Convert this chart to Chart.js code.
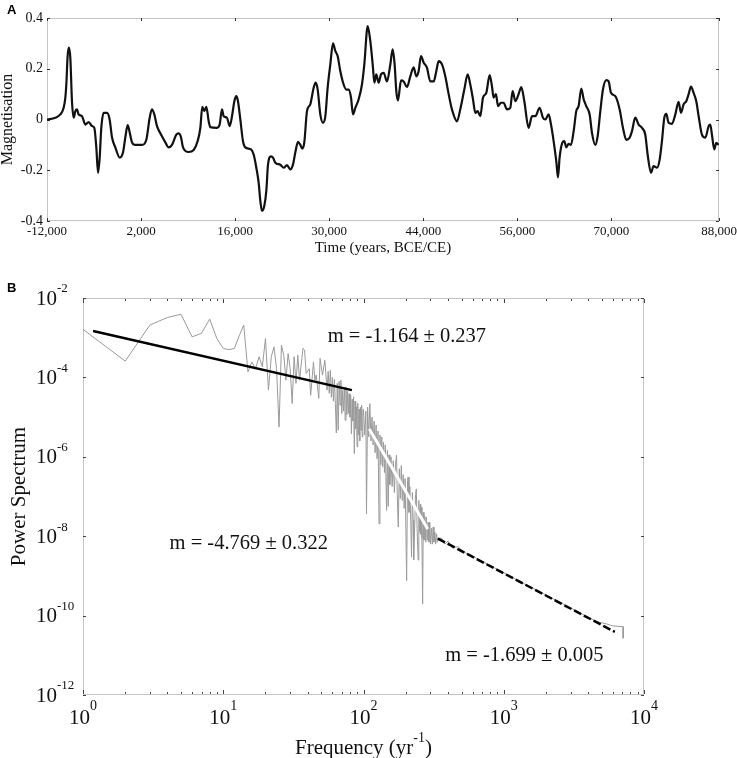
<!DOCTYPE html>
<html>
<head>
<meta charset="utf-8">
<script src="https://cdn.jsdelivr.net/npm/chart.js@4.4.1/dist/chart.umd.min.js"></script>
<style>
  html, body { margin: 0; padding: 0; background: #fff; }
  canvas { display: block; }
</style>
</head>
<body>
<canvas id="magChart" width="737" height="270"></canvas>
<canvas id="spectrumChart" width="737" height="488"></canvas>
<script>
// Panel A: magnetisation time series
const timeYears = [
  -12000, -10760, -10020, -9520, -9270, -9120, -8930, -8730, -8530, -8280, -8030, -7780, -7540, -7290,
  -6790, -6300, -5800, -5300, -4960, -4660, -4410, -4160, -3920, -3570, -3070, -2680, -2330, -1830,
  -1190, -690, -340, 0, 300, 650, 1140, 2140, 2780, 3280, 3620, 3970, 4370, 5110, 5610, 6100, 6600,
  7240, 7590, 7940, 8240, 9080, 9820, 10420, 10820, 11110, 11410, 11710, 12060, 12300, 13300, 13690,
  14040, 14290, 14780, 15180, 15530, 15880, 16170, 16420, 16770, 17160, 17510, 18360, 18750, 19150,
  19500, 19740, 19990, 20340, 20640, 20880, 21330, 21630, 21980, 22720, 23220, 23710, 24210, 24600,
  24950, 25350, 25700, 25990, 26290, 26690, 27180, 27680, 27980, 28280, 28670, 29070, 29420, 29760,
  30160, 30560, 30900, 31250, 31650, 32140, 32540, 32890, 33240, 33530, 33880, 34380, 34870, 35220,
  35720, 36110, 36510, 36710, 37000, 37350, 37700, 38100, 38590, 39090, 39440, 39730, 39980, 40230,
  40680, 41070, 41570, 42060, 42560, 42960, 43300, 43650, 44050, 44540, 45040, 45540, 45930, 46280,
  46780, 47270, 47770, 48260, 49010, 49500, 50100, 50600, 50990, 51390, 51740, 52080, 52480, 52880,
  53370, 53870, 54220, 54460, 54810, 55110, 55560, 55950, 56450, 56940, 57290, 57690, 58180, 58580,
  59030, 59670, 60170, 60660, 61310, 61800, 62150, 62650, 63000, 63390, 63790, 64040, 64280, 64680,
  64980, 65280, 65620, 65970, 66370, 66760, 67110, 67510, 67860, 68250, 68750, 69100, 69590, 69940,
  70340, 70730, 71230, 71580, 71920, 72570, 73210, 73710, 74200, 74700, 75050, 75540, 76040, 76540,
  77030, 77380, 77880, 78270, 78770, 79170, 79510, 79860, 80160, 80500, 81000, 81500, 81990, 82340,
  82740, 83130, 83480, 83830, 84220, 84620, 84970, 85460, 85960, 86460, 86700, 86950, 87300, 87600,
  87950
];
const magnetisation = [
  0, 0.007, 0.02, 0.046, 0.086, 0.14, 0.25, 0.283, 0.243, 0.07, 0.007, 0.033, 0.04, 0.02,
  0.013, -0.02, -0.01, -0.026, -0.033, -0.11, -0.21, -0.15, -0.033, 0.026, 0.026, 0, -0.07, -0.11,
  -0.15, -0.13, -0.07, -0.022, -0.05, -0.09, -0.1, -0.1, -0.08, 0.007, 0.04, 0.02, -0.026, -0.066, -0.09, -0.11, -0.1,
  -0.06, -0.055, -0.07, -0.11, -0.128, -0.12, -0.085, -0.033, 0.05, 0.033, 0.05, -0.007, -0.03, -0.033, -0.02,
  0.04, 0.013, 0.007, -0.026, 0.013, 0.072, 0.092, 0.072, 0, -0.085, -0.11, -0.118, -0.138, -0.19,
  -0.25, -0.32, -0.36, -0.34, -0.28, -0.18, -0.145, -0.15, -0.17, -0.178, -0.19, -0.18, -0.197, -0.178,
  -0.13, -0.088, -0.1, -0.115, -0.09, 0.033, 0.06, 0.125, 0.145, 0.118, 0.02, -0.013, 0.013, 0.125,
  0.217, 0.3, 0.27, 0.25, 0.19, 0.138, 0.118, 0.118, 0.086, 0.02, 0.046, 0.08, 0.138, 0.217,
  0.368, 0.31, 0.204, 0.145, 0.178, 0.145, 0.178, 0.184, 0.15, 0.217, 0.276, 0.217, 0.112, 0.075,
  0.154, 0.15, 0.128, 0.17, 0.206, 0.17, 0.19, 0.25, 0.224, 0.204, 0.15, 0.15, 0.19, 0.23,
  0.217, 0.17, 0.1, 0.04, -0.007, 0.04, 0.118, 0.178, 0.138, 0.08, 0.026, 0.033, 0.013, 0.086,
  0.105, 0.175, 0.13, 0.086, 0.1, 0.053, 0.066, 0.066, 0.04, 0.046, 0.112, 0.072, 0.1, 0.128,
  0.072, -0.033, 0.013, 0.013, 0.046, 0.007, 0, 0.02, -0.02, -0.085, -0.165, -0.228, -0.15, -0.092,
  -0.085, -0.11, -0.096, -0.1, -0.046, 0.033, 0.053, 0.122, 0.08, 0.053, 0.02, -0.053, -0.1, -0.066,
  0.033, 0.118, 0.155, 0.15, 0.105, 0.092, 0.04, -0.033, -0.08, -0.072, -0.046, 0.007, -0.02, -0.033,
  -0.06, -0.138, -0.21, -0.184, -0.19, -0.158, -0.085, 0.007, 0.022, -0.013, -0.017, 0.02, 0.07, 0.026,
  0.06, 0.072, 0.1, 0.13, 0.105, 0.072, 0.013, -0.06, -0.072, -0.026, -0.02, -0.06, -0.118, -0.092,
  -0.1
];
const timeTickPositions = [-12000, 2000, 16000, 30000, 44000, 58000, 72000, 88000];
const timeTickLabels = ["-12,000", "2,000", "16,000", "30,000", "44,000", "56,000", "70,000", "88,000"];
const magTickValues = [-0.4, -0.2, 0, 0.2, 0.4];
const magTickLabels = ["-0.4", "-0.2", "0", "0.2", "0.4"];

// Panel B: power spectrum (frequency, log10 of power)
const specFreq = [
  1, 2, 3, 4, 5, 6, 7, 8, 9, 10, 11, 12, 13, 14, 15, 16, 17, 18, 19, 20, 21, 22, 23, 24, 25, 26, 27, 28,
  29, 30, 31, 32, 33, 34, 35, 37, 38, 39, 41, 42, 44, 45, 46, 48, 49, 51, 53,
  55, 56, 57, 58, 59, 60, 61, 62, 63, 64, 65, 66, 67, 68, 69, 70, 71, 72, 73, 74, 75, 76, 77, 78, 79, 80, 81,
  82, 83, 84, 85, 86, 87, 88, 89, 90, 91, 92, 93, 94, 95, 96, 97, 98, 99,
  100, 102, 104, 105, 107, 109, 111, 113, 115, 117, 119, 121, 123, 125, 127, 129, 131, 133, 135, 137,
  139, 141, 143, 146, 148, 150, 152, 154, 157, 160, 163, 166, 169, 172, 174, 177, 180, 183, 186, 189,
  192, 195, 198, 203, 206, 208, 211, 214, 217, 220, 223, 226, 228, 232, 235, 238, 241, 245, 248, 251,
  254, 256, 258, 261, 264, 267, 270, 274, 278, 281, 285, 289, 293, 297, 301, 306, 310, 314, 318, 323,
  327, 332, 336, 341,
  360, 380, 400, 430, 470, 520, 650, 800, 1000, 1300, 1700, 2200, 2900, 3800, 4600, 5400, 6000, 7100, 7100
];
const specLogPower = [
  -2.79, -3.59, -2.68, -2.49, -2.41, -2.98, -2.89, -2.53, -3.02, -3.27, -3.30, -3.27, -2.95, -2.68,
  -3.86, -3.61, -3.78, -3.48, -3.73, -3.02, -4.32, -3.48, -3.23, -3.78, -5.25, -3.19, -3.44, -4.07,
  -3.40, -3.78, -4.66, -3.48, -4.15, -3.44, -4.07, -3.27, -3.31, -3.90, -3.78, -4.45, -3.61, -4.07, -3.94,
  -4.53, -3.52, -3.94, -3.57,
  -4.32, -3.85, -4.40, -3.82, -4.50, -4.00, -4.60, -4.05, -4.66, -5.40, -4.15, -5.33, -4.10, -4.70, -4.07,
  -4.91, -4.32, -4.85, -4.25, -5.08, -4.24, -4.95, -4.35, -4.91, -4.41, -5.00, -4.45,
  -5.42, -4.55, -5.10, -4.49, -5.92, -4.60, -5.30, -4.74, -5.75, -4.65, -5.45, -4.80, -5.60, -4.75,
  -5.33, -4.70, -5.50, -4.83,
  -4.80, -5.45, -4.85, -7.44, -4.75, -5.50, -4.66, -5.60, -5.00, -5.70, -5.10, -5.90, -5.20, -6.05,
  -5.35, -7.69, -5.45, -6.20, -5.50, -6.25, -5.63, -6.40, -5.70, -7.35, -5.84, -7.25, -5.95, -6.70,
  -6.00, -6.75, -6.10, -6.90, -6.20, -5.96, -6.95, -7.77, -6.30, -7.05, -6.22, -7.10, -6.45, -7.30,
  -6.55, -9.12, -6.60, -6.51, -7.40, -6.75, -7.55, -8.53, -6.90, -7.60, -8.60, -7.70, -6.95, -6.81,
  -7.80, -8.60, -7.10, -7.90, -7.20, -7.95, -7.27, -8.05, -9.71, -7.40, -8.10, -7.50, -8.15, -7.52,
  -8.10, -7.65, -8.15, -7.65, -8.20, -7.80, -8.20, -7.77, -8.15, -7.90, -8.20, -7.94, -8.15, -8.05,
  -8.05, -8.20, -8.12, -8.30, -8.26, -8.40, -8.57, -8.74, -8.92, -9.14, -9.35, -9.56, -9.78, -10.00,
  -10.15, -10.21, -10.26, -10.28, -10.57
];
// fitted power-law segments
const fitLowFreq = [1.18, 82.7];
const fitLowLogPower = [-2.83, -4.32];
const fitMidFreq = [110, 287];
const fitMidLogPower = [-5.3, -7.82];
const fitHighFreq = [339, 6194];
const fitHighLogPower = [-8.06, -10.41];

const freqDecades = [0, 1, 2, 3, 4];
const powerDecades = [-2, -4, -6, -8, -10, -12];
const slopeLabels = ["m = -1.164 \u00b1 0.237", "m = -4.769 \u00b1 0.322", "m = -1.699 \u00b1 0.005"];
const slopeLabelFreq = [204, 15.2, 1403];
const slopeLabelLogPower = [-2.985, -8.19, -11.02];

const SERIF = '"Liberation Serif", "Times New Roman", serif';
const SANS = '"Liberation Sans", Arial, sans-serif';

const toPoints = (xs, logs) => xs.map((f, i) => ({ x: f, y: Math.pow(10, logs[i]) }));

// Frame, inward ticks and titles for panel A
const magDecor = {
    id: "magDecor",
    beforeDatasetsDraw(chart) {
        const { ctx, chartArea: a, scales: { x, y } } = chart;
        ctx.save();
        ctx.strokeStyle = "#c4c4c4";
        ctx.lineWidth = 1;
        ctx.strokeRect(a.left + 0.5, a.top + 0.5, a.right - a.left - 1, a.bottom - a.top - 1);
        ctx.strokeStyle = "#333";
        ctx.beginPath();
        timeTickPositions.forEach(v => {
            const px = Math.round(x.getPixelForValue(v)) + 0.5;
            ctx.moveTo(px, a.top); ctx.lineTo(px, a.top + 3);
            ctx.moveTo(px, a.bottom); ctx.lineTo(px, a.bottom - 3);
        });
        magTickValues.forEach(v => {
            const py = Math.round(y.getPixelForValue(v)) + 0.5;
            ctx.moveTo(a.left, py); ctx.lineTo(a.left + 3, py);
            ctx.moveTo(a.right, py); ctx.lineTo(a.right - 3, py);
        });
        ctx.stroke();
        ctx.restore();
    },
    afterDraw(chart) {
        const { ctx, chartArea: a } = chart;
        ctx.save();
        ctx.fillStyle = "#111";
        ctx.font = "15px " + SERIF;
        ctx.textAlign = "center";
        ctx.textBaseline = "middle";
        ctx.fillText("Time (years, BCE/CE)", (a.left + a.right) / 2, 248);
        ctx.translate(8, (a.top + a.bottom) / 2);
        ctx.rotate(-Math.PI / 2);
        ctx.font = "16px " + SERIF;
        ctx.fillText("Magnetisation", 0, 0);
        ctx.restore();
        ctx.save();
        ctx.fillStyle = "#000";
        ctx.font = "bold 13px " + SANS;
        ctx.textBaseline = "top";
        ctx.fillText("A", 7, 4);
        ctx.restore();
    }
};

new Chart(document.getElementById("magChart"), {
    type: "line",
    data: {
        datasets: [{
            data: timeYears.map((t, i) => ({ x: t, y: magnetisation[i] })),
            borderColor: "#111",
            borderWidth: 2.2,
            pointRadius: 0,
            cubicInterpolationMode: "monotone",
            fill: false
        }]
    },
    options: {
        responsive: false,
        animation: false,
        layout: { padding: { left: 0, right: 18, top: 18, bottom: 0 } },
        plugins: { legend: { display: false }, tooltip: { enabled: false } },
        scales: {
            x: {
                type: "linear",
                min: -12000,
                max: 88000,
                grid: { display: false, drawTicks: false },
                border: { display: false },
                afterBuildTicks(s) { s.ticks = timeTickPositions.map(v => ({ value: v })); },
                afterFit(s) { s.height = 49; s.paddingLeft = 0; s.paddingRight = 0; },
                ticks: {
                    autoSkip: false,
                    maxRotation: 0,
                    padding: 3,
                    color: "#111",
                    font: { family: SERIF, size: 13 },
                    callback: (v, i) => timeTickLabels[i]
                }
            },
            y: {
                min: -0.4,
                max: 0.4,
                grid: { display: false, drawTicks: false },
                border: { display: false },
                afterBuildTicks(s) { s.ticks = magTickValues.map(v => ({ value: v })); },
                afterFit(s) { s.width = 47; },
                ticks: {
                    padding: 4,
                    color: "#111",
                    font: { family: SERIF, size: 14 },
                    callback: (v, i) => magTickLabels[i]
                }
            }
        }
    },
    plugins: [magDecor]
});

// Frame, log ticks, power-of-ten labels, titles and slope notes for panel B
const spectrumDecor = {
    id: "spectrumDecor",
    beforeDatasetsDraw(chart) {
        const { ctx, chartArea: a, scales: { x, y } } = chart;
        ctx.save();
        ctx.strokeStyle = "#c4c4c4";
        ctx.lineWidth = 1;
        ctx.strokeRect(a.left + 0.5, a.top + 0.5, a.right - a.left - 1, a.bottom - a.top - 1);
        ctx.strokeStyle = "#444";
        ctx.beginPath();
        freqDecades.forEach(d => {
            for (let k = 1; k <= 9; k++) {
                const v = k * Math.pow(10, d);
                if (v > 10000) break;
                const px = Math.round(x.getPixelForValue(v)) + 0.5;
                const len = k === 1 ? 4 : 2;
                ctx.moveTo(px, a.top + 1); ctx.lineTo(px, a.top + 1 + len);
                ctx.moveTo(px, a.bottom - 1); ctx.lineTo(px, a.bottom - 1 - len);
            }
        });
        powerDecades.forEach(e => {
            const py = Math.round(y.getPixelForValue(Math.pow(10, e))) + 0.5;
            ctx.moveTo(a.left, py); ctx.lineTo(a.left + 3, py);
            ctx.moveTo(a.right, py); ctx.lineTo(a.right - 3, py);
        });
        ctx.stroke();
        ctx.restore();
    },
    afterDraw(chart) {
        const { ctx, chartArea: a, scales: { x, y } } = chart;
        ctx.save();
        ctx.fillStyle = "#111";
        ctx.textBaseline = "middle";
        // y axis labels
        powerDecades.forEach(e => {
            const py = y.getPixelForValue(Math.pow(10, e));
            ctx.font = "21px " + SERIF;
            ctx.textAlign = "right";
            ctx.fillText("10", a.left - 26, py + 1);
            ctx.font = "13px " + SERIF;
            ctx.textAlign = "left";
            ctx.fillText(String(e), a.left - 26, py - 9);
        });
        // x axis labels
        freqDecades.forEach(d => {
            const px = x.getPixelForValue(Math.pow(10, d));
            ctx.font = "21px " + SERIF;
            const w1 = ctx.measureText("10").width;
            ctx.font = "14px " + SERIF;
            const w2 = ctx.measureText(String(d)).width;
            const start = px - (w1 + w2) / 2;
            ctx.textAlign = "left";
            ctx.font = "21px " + SERIF;
            ctx.fillText("10", start, a.bottom + 23);
            ctx.font = "14px " + SERIF;
            ctx.fillText(String(d), start + w1, a.bottom + 11);
        });
        // x title with superscript
        ctx.font = "21px " + SERIF;
        const p1 = "Frequency (yr", p3 = ")";
        const w1 = ctx.measureText(p1).width, w3 = ctx.measureText(p3).width;
        ctx.font = "14px " + SERIF;
        const w2 = ctx.measureText("-1").width;
        let tx = (a.left + a.right) / 2 - (w1 + w2 + w3) / 2;
        ctx.font = "21px " + SERIF;
        ctx.fillText(p1, tx, 478);
        ctx.font = "14px " + SERIF;
        ctx.fillText("-1", tx + w1, 468);
        ctx.font = "21px " + SERIF;
        ctx.fillText(p3, tx + w1 + w2, 478);
        // y title
        ctx.save();
        ctx.translate(19, (a.top + a.bottom) / 2);
        ctx.rotate(-Math.PI / 2);
        ctx.textAlign = "center";
        ctx.fillText("Power Spectrum", 0, 0);
        ctx.restore();
        // slope notes
        ctx.font = "20.5px " + SERIF;
        ctx.textAlign = "center";
        slopeLabels.forEach((t, i) => {
            ctx.fillText(t, x.getPixelForValue(slopeLabelFreq[i]), y.getPixelForValue(Math.pow(10, slopeLabelLogPower[i])));
        });
        ctx.restore();
        ctx.save();
        ctx.fillStyle = "#000";
        ctx.font = "bold 13px " + SANS;
        ctx.textBaseline = "top";
        ctx.fillText("B", 7, 12);
        ctx.restore();
    }
};

new Chart(document.getElementById("spectrumChart"), {
    type: "scatter",
    data: {
        datasets: [
            { data: toPoints(specFreq, specLogPower), showLine: true, borderColor: "#9a9a9a", borderWidth: 1, pointRadius: 0, order: 4 },
            { data: toPoints(fitLowFreq, fitLowLogPower), showLine: true, borderColor: "#000", borderWidth: 2.5, pointRadius: 0, order: 3 },
            { data: toPoints(fitMidFreq, fitMidLogPower), showLine: true, borderColor: "#fff", borderWidth: 3, pointRadius: 0, order: 2 },
            { data: toPoints(fitHighFreq, fitHighLogPower), showLine: true, borderColor: "#000", borderWidth: 2.5, borderDash: [8, 3], pointRadius: 0, order: 1 }
        ]
    },
    options: {
        responsive: false,
        animation: false,
        layout: { padding: { left: 83, right: 93, top: 28, bottom: 63 } },
        plugins: { legend: { display: false }, tooltip: { enabled: false } },
        scales: {
            x: { type: "logarithmic", min: 1, max: 10000, display: false },
            y: { type: "logarithmic", min: 1e-12, max: 1e-2, display: false }
        }
    },
    plugins: [spectrumDecor]
});
</script>
</body>
</html>
